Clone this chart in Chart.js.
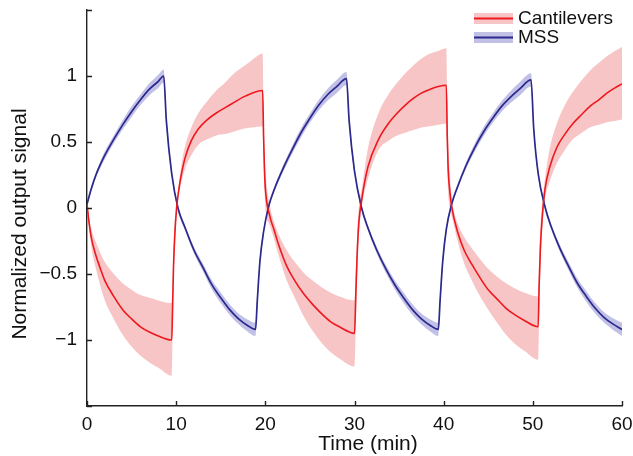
<!DOCTYPE html>
<html>
<head>
<meta charset="utf-8">
<script src="https://cdn.jsdelivr.net/npm/chart.js@4"></script>
<style>
  html, body { margin: 0; padding: 0; background: #fff; }
  #wrap { width: 633px; height: 456px; }
</style>
</head>
<body>
<div id="wrap"><canvas id="sigChart"></canvas></div>
<script>
  // Cantilevers: time (min), mean and shaded band edges
  const cantT = [0, 0.25, 0.5, 1, 1.5, 2, 3, 4, 5, 6, 7, 8, 9.5,
    9.6, 9.7, 9.85, 10.05, 10.3, 10.6, 11, 11.7, 12.5, 13.5, 14.5, 15.5, 16.5, 17.5, 18.5, 19.7,
    19.8, 19.9, 20.0, 20.5, 21, 21.5, 22.4, 23.3, 24.3, 25.3, 26.3, 27.3, 28.3, 30.0,
    30.15, 30.3, 30.5, 30.8, 31.5, 32.7, 33.8, 34.8, 35.7, 36.6, 37.5, 38.5, 39.4, 40.3,
    40.4, 40.5, 40.7, 40.9, 41.6, 42.3, 43.1, 44, 45, 46, 47, 48, 49, 50.6,
    50.7, 50.85, 51.0, 51.36, 51.9, 52.7, 53.6, 54.5, 55.5, 56.4, 57.4, 58.3, 59.2, 60];
  const cantMean = [0.03, -0.12, -0.23, -0.36, -0.46, -0.55, -0.67, -0.77, -0.84, -0.90, -0.94, -0.97, -1.0,
    -0.75, -0.45, -0.2, 0.0, 0.14, 0.26, 0.38, 0.51, 0.60, 0.67, 0.72, 0.76, 0.80, 0.84, 0.87, 0.89,
    0.55, 0.30, 0.15, -0.06, -0.17, -0.28, -0.44, -0.55, -0.65, -0.73, -0.80, -0.86, -0.90, -0.95,
    -0.65, -0.35, -0.1, 0.06, 0.31, 0.52, 0.64, 0.72, 0.78, 0.83, 0.87, 0.90, 0.92, 0.93,
    0.55, 0.30, 0.12, 0.01, -0.19, -0.32, -0.42, -0.52, -0.62, -0.69, -0.76, -0.81, -0.85, -0.90,
    -0.6, -0.3, -0.12, 0.14, 0.31, 0.46, 0.56, 0.64, 0.71, 0.77, 0.82, 0.87, 0.91, 0.94];
  const cantUpper = [0.08, -0.08, -0.16, -0.26, -0.34, -0.41, -0.50, -0.57, -0.62, -0.66, -0.68, -0.70, -0.72,
    -0.55, -0.3, -0.1, 0.05, 0.19, 0.33, 0.47, 0.61, 0.72, 0.81, 0.89, 0.95, 1.02, 1.07, 1.12, 1.17,
    0.75, 0.45, 0.3, 0.02, -0.11, -0.20, -0.32, -0.41, -0.49, -0.55, -0.60, -0.64, -0.67, -0.70,
    -0.45, -0.2, 0.02, 0.14, 0.45, 0.72, 0.86, 0.95, 1.02, 1.08, 1.13, 1.17, 1.19, 1.21,
    0.8, 0.5, 0.25, 0.08, -0.12, -0.22, -0.30, -0.38, -0.46, -0.52, -0.57, -0.61, -0.64, -0.67,
    -0.4, -0.15, 0.0, 0.22, 0.45, 0.64, 0.78, 0.88, 0.97, 1.04, 1.10, 1.15, 1.19, 1.22];
  const cantLower = [-0.01, -0.16, -0.30, -0.46, -0.59, -0.70, -0.84, -0.96, -1.05, -1.12, -1.17, -1.21, -1.27,
    -0.95, -0.6, -0.3, -0.05, 0.10, 0.20, 0.30, 0.40, 0.48, 0.52, 0.55, 0.56, 0.58, 0.60, 0.61, 0.62,
    0.35, 0.15, 0.0, -0.13, -0.24, -0.36, -0.55, -0.68, -0.82, -0.93, -1.02, -1.09, -1.14, -1.20,
    -0.9, -0.5, -0.2, 0.0, 0.22, 0.44, 0.51, 0.55, 0.57, 0.59, 0.61, 0.62, 0.63, 0.64,
    0.35, 0.12, 0.0, -0.06, -0.26, -0.42, -0.54, -0.66, -0.77, -0.87, -0.96, -1.03, -1.08, -1.15,
    -0.85, -0.45, -0.22, 0.06, 0.20, 0.34, 0.44, 0.52, 0.57, 0.61, 0.63, 0.65, 0.66, 0.67];

  // MSS: time (min), mean and band edges
  const mssT = [0, 0.5, 1, 1.5, 2, 3, 4, 5, 6, 7, 8, 8.6,
    8.9, 9.5, 10.2, 11, 12, 13, 14, 15, 16, 17, 18, 18.9,
    19.1, 19.4, 19.8, 20.4, 21, 22, 23, 24, 25, 26, 27, 28, 29.1,
    29.4, 30, 30.8, 31.5, 32.5, 33.5, 34.5, 35.5, 36.5, 37.5, 38.5, 39.4,
    39.6, 39.9, 40.3, 40.9, 41.5, 42.5, 43.5, 44.5, 45.5, 46.5, 47.5, 48.5, 49.8,
    50.1, 50.6, 51.4, 52, 53, 54, 55, 56, 57, 58, 59, 60];
  const mssMean = [0.03, 0.15, 0.25, 0.33, 0.40, 0.52, 0.63, 0.73, 0.82, 0.90, 0.96, 1.0,
    0.66, 0.26, 0.0, -0.15, -0.32, -0.45, -0.58, -0.68, -0.77, -0.84, -0.89, -0.92,
    -0.70, -0.40, -0.18, 0.02, 0.14, 0.30, 0.44, 0.57, 0.68, 0.78, 0.86, 0.92, 0.98,
    0.66, 0.28, 0.0, -0.15, -0.32, -0.46, -0.58, -0.68, -0.77, -0.84, -0.89, -0.92,
    -0.70, -0.40, -0.16, 0.03, 0.15, 0.32, 0.46, 0.58, 0.68, 0.77, 0.84, 0.90, 0.97,
    0.60, 0.26, 0.0, -0.13, -0.30, -0.44, -0.57, -0.67, -0.76, -0.83, -0.88, -0.92];
  const mssUpper = [0.05, 0.17, 0.27, 0.355, 0.43, 0.55, 0.665, 0.77, 0.86, 0.945, 1.01, 1.05,
    0.70, 0.28, 0.02, -0.13, -0.295, -0.42, -0.545, -0.64, -0.73, -0.80, -0.845, -0.87,
    -0.66, -0.37, -0.16, 0.04, 0.16, 0.325, 0.47, 0.605, 0.715, 0.82, 0.905, 0.97, 1.03,
    0.70, 0.30, 0.02, -0.13, -0.295, -0.43, -0.545, -0.64, -0.73, -0.80, -0.845, -0.87,
    -0.66, -0.37, -0.14, 0.05, 0.17, 0.345, 0.49, 0.615, 0.715, 0.81, 0.885, 0.95, 1.02,
    0.64, 0.28, 0.02, -0.11, -0.275, -0.41, -0.535, -0.63, -0.72, -0.79, -0.835, -0.87];
  const mssLower = [0.01, 0.13, 0.23, 0.305, 0.37, 0.49, 0.595, 0.69, 0.78, 0.855, 0.91, 0.95,
    0.62, 0.24, -0.02, -0.17, -0.345, -0.48, -0.615, -0.72, -0.81, -0.88, -0.935, -0.97,
    -0.74, -0.43, -0.20, 0.00, 0.12, 0.275, 0.41, 0.535, 0.645, 0.74, 0.815, 0.87, 0.93,
    0.62, 0.26, -0.02, -0.17, -0.345, -0.49, -0.615, -0.72, -0.81, -0.88, -0.935, -0.97,
    -0.74, -0.43, -0.18, 0.01, 0.13, 0.295, 0.43, 0.545, 0.645, 0.73, 0.795, 0.85, 0.92,
    0.56, 0.24, -0.02, -0.15, -0.325, -0.47, -0.605, -0.71, -0.80, -0.87, -0.925, -0.97];

  const xTickVals = [0, 10, 20, 30, 40, 50, 60];
  const yTickVals = [-1.5, -1, -0.5, 0, 0.5, 1, 1.5];
  const seriesNames = ['Cantilevers', 'MSS'];

  const RED = 'rgb(238,24,30)';
  const PINK = 'rgba(235,110,110,0.4)';
  const NAVY = 'rgb(44,40,140)';
  const LAV = 'rgba(100,100,195,0.4)';
  const FONT = '"Liberation Sans", Arial, sans-serif';

  const pts = (ts, vs) => ts.map((t, i) => ({ x: t, y: vs[i] }));

  const lineBase = { pointRadius: 0, cubicInterpolationMode: 'monotone', fill: false };

  // axis titles, inward ticks and legend
  const decor = {
    id: 'decor',
    afterDraw(chart) {
      const { ctx, chartArea: a, scales: { x, y } } = chart;
      ctx.save();
      ctx.strokeStyle = '#222';
      ctx.lineWidth = 1.4;
      ctx.beginPath();
      yTickVals.forEach(v => {
        const py = Math.round(y.getPixelForValue(v)) + 0.5;
        ctx.moveTo(a.left, py); ctx.lineTo(a.left + 5, py);
      });
      xTickVals.forEach(v => {
        const px = Math.round(x.getPixelForValue(v)) + 0.5;
        ctx.moveTo(px, a.bottom); ctx.lineTo(px, a.bottom - 5);
      });
      ctx.stroke();

      ctx.fillStyle = '#111';
      ctx.font = '21px ' + FONT;
      ctx.textAlign = 'center';
      ctx.textBaseline = 'middle';
      ctx.fillText('Time (min)', 368, 444);
      ctx.save();
      ctx.translate(20, 224);
      ctx.rotate(-Math.PI / 2);
      ctx.fillText('Normalized output signal', 0, 0);
      ctx.restore();

      // legend
      const rows = [[RED, PINK, 18.5], [NAVY, LAV, 37.5]];
      ctx.font = '19px ' + FONT;
      ctx.textAlign = 'left';
      rows.forEach((r, i) => {
        ctx.fillStyle = r[1];
        ctx.fillRect(474, r[2] - 5.5, 39, 11);
        ctx.strokeStyle = r[0];
        ctx.lineWidth = 1.8;
        ctx.beginPath();
        ctx.moveTo(474, r[2]); ctx.lineTo(513, r[2]);
        ctx.stroke();
        ctx.fillStyle = '#111';
        ctx.fillText(seriesNames[i], 518, r[2] + 0.5);
      });
      ctx.restore();
    }
  };

  const ctx = document.getElementById('sigChart').getContext('2d');
  const chart = new Chart(ctx, {
    type: 'line',
    data: {
      datasets: [
        { ...lineBase, label: 'Cantilevers', data: pts(cantT, cantMean), borderColor: RED, borderWidth: 1.6, order: 0 },
        { ...lineBase, label: 'MSS', data: pts(mssT, mssMean), borderColor: NAVY, borderWidth: 1.7, order: 0 },
        { ...lineBase, label: 'cant hi', data: pts(cantT, cantUpper), borderWidth: 0, borderColor: 'rgba(0,0,0,0)', backgroundColor: PINK, fill: '+1', order: 2 },
        { ...lineBase, label: 'cant lo', data: pts(cantT, cantLower), borderWidth: 0, borderColor: 'rgba(0,0,0,0)', order: 2 },
        { ...lineBase, label: 'mss hi', data: pts(mssT, mssUpper), borderWidth: 0, borderColor: 'rgba(0,0,0,0)', backgroundColor: LAV, fill: '+1', order: 1 },
        { ...lineBase, label: 'mss lo', data: pts(mssT, mssLower), borderWidth: 0, borderColor: 'rgba(0,0,0,0)', order: 1 }
      ]
    },
    options: {
      responsive: true,
      maintainAspectRatio: false,
      animation: false,
      layout: { padding: 0 },
      plugins: { legend: { display: false }, tooltip: { enabled: false } },
      scales: {
        x: {
          type: 'linear', min: 0, max: 60,
          ticks: { stepSize: 10, padding: 7, color: '#111', font: { size: 19, family: FONT } },
          grid: { display: true, drawOnChartArea: false, drawTicks: false },
          border: { color: '#222', width: 1.4 },
          afterFit: s => { s.height = 50; s.paddingLeft = 0; s.paddingRight = 11; }
        },
        y: {
          min: -1.5, max: 1.5,
          ticks: {
            stepSize: 0.5, padding: 10, color: '#111', font: { size: 19, family: FONT },
            callback: v => Math.abs(v) > 1.01 ? '' : String(v).replace('-', '\u2212')
          },
          grid: { display: true, drawOnChartArea: false, drawTicks: false },
          border: { color: '#222', width: 1.4 },
          afterFit: s => { s.width = 87; s.paddingTop = 10; s.paddingBottom = 0; }
        }
      }
    },
    plugins: [decor]
  });
</script>
</body>
</html>
